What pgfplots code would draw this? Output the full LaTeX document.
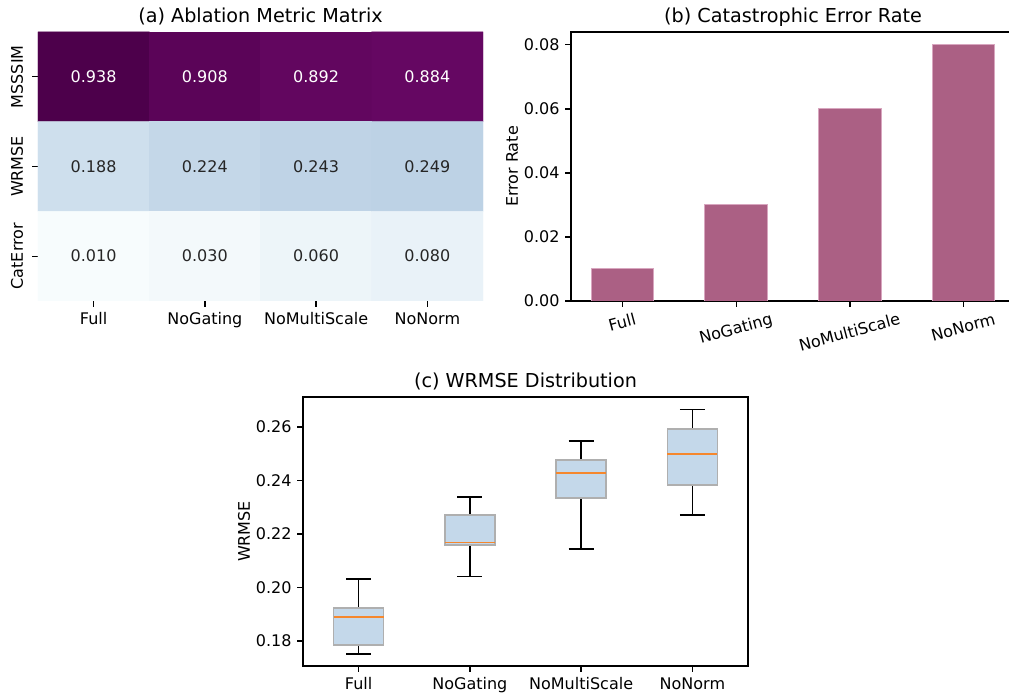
\documentclass[border=0pt]{standalone}
\usepackage{fontspec}
\setmainfont{DejaVu Sans}
\usepackage{graphicx}
\usepackage{pgfplots}
\pgfplotsset{compat=1.18}
\usepgfplotslibrary{statistics}

\definecolor{barfill}{RGB}{171,96,132}
\definecolor{baredge}{RGB}{216,166,191}
\definecolor{boxfill}{RGB}{196,216,234}
\definecolor{boxedge}{RGB}{175,175,175}
\definecolor{medcol}{RGB}{245,135,45}
\definecolor{darktext}{RGB}{38,38,38}

\pgfplotsset{
  mpl/.style={
    scale only axis,
    anchor=south west,
    axis line style={black, line width=0.8pt},
    tick style={black, line width=0.8pt},
    major tick length=3.5pt,
    tick align=outside,
    xtick pos=bottom, ytick pos=left,
    every axis title/.style={at={(0.5,1)}, anchor=base, yshift=6pt, inner sep=0pt, font=\fontsize{12}{14.4}\selectfont},
    tick label style={font=\fontsize{10}{12}\selectfont},
    label style={font=\fontsize{10}{12}\selectfont},
    xticklabel style={anchor=north, inner sep=0pt},
    yticklabel style={anchor=east, inner sep=0pt},
    xticklabel shift=3.5pt, yticklabel shift=3.5pt,
    /pgf/number format/assume math mode=true,
  }
}

\pgfplotstableread{
x y c
0 0 0.938
1 0 0.908
2 0 0.892
3 0 0.884
0 1 0.188
1 1 0.224
2 1 0.243
3 1 0.249
0 2 0.010
1 2 0.030
2 2 0.060
3 2 0.080
}\heat

\begin{document}
\begin{tikzpicture}
% (a) heatmap
\begin{axis}[mpl,
  at={(23.75pt,246.25pt)}, width=278.125pt, height=168.125pt,
  xmin=-0.5, xmax=3.5, ymin=-0.5, ymax=2.5, y dir=reverse,
  axis line style={draw=none},
  xtick={0,1,2,3}, xticklabels={Full,NoGating,NoMultiScale,NoNorm},
  ytick={0,1,2}, yticklabels={MSSSIM,WRMSE,CatError},
  xticklabel style={anchor=base}, xticklabel shift=11.1pt,
  yticklabel style={rotate=90, anchor=base}, yticklabel shift=5.9pt,
  title={(a) Ablation Metric Matrix},
  colormap={bupu}{rgb255=(247,252,253) rgb255=(224,236,244) rgb255=(191,211,230) rgb255=(158,188,218) rgb255=(140,150,198) rgb255=(140,107,177) rgb255=(136,65,157) rgb255=(129,15,124) rgb255=(77,0,75)},
  point meta min=0.01, point meta max=0.938,
]
\addplot[matrix plot*, mesh/cols=4, point meta=explicit] table[x=x, y=y, meta=c] {\heat};
\addplot[draw=none, nodes near coords, point meta=explicit symbolic,
  nodes near coords style={anchor=center, text=white, font=\fontsize{10}{12}\selectfont}]
  table[meta=t] {
x y t
0 0 0.938
1 0 0.908
2 0 0.892
3 0 0.884
};
\addplot[draw=none, nodes near coords, point meta=explicit symbolic,
  nodes near coords style={anchor=center, text=darktext, font=\fontsize{10}{12}\selectfont}]
  table[meta=t] {
x y t
0 1 0.188
1 1 0.224
2 1 0.243
3 1 0.249
0 2 0.010
1 2 0.030
2 2 0.060
3 2 0.080
};
\end{axis}

% (b) bar chart
\begin{axis}[mpl,
  at={(356.875pt,246.25pt)}, width=277.5pt, height=168.125pt,
  xmin=-0.4525, xmax=3.4525, ymin=0, ymax=0.084,
  xtick={0,1,2,3},
  xticklabels={\rotatebox{15}{Full\vphantom{lp}},\rotatebox{15}{NoGating\vphantom{lp}},\rotatebox{15}{NoMultiScale\vphantom{lp}},\rotatebox{15}{NoNorm\vphantom{lp}}},
  ytick={0,0.02,0.04,0.06,0.08},
  yticklabel style={/pgf/number format/.cd, fixed, fixed zerofill, precision=2},
  scaled y ticks=false,
  ylabel={Error Rate},
  title={(b) Catastrophic Error Rate},
]
\addplot[ybar, bar width=0.55, fill=barfill, draw=baredge, line width=0.6pt]
  coordinates {(0,0.01) (1,0.03) (2,0.06) (3,0.08)};
\end{axis}

% (c) boxplot
\begin{axis}[mpl,
  at={(189.375pt,18.125pt)}, width=278.125pt, height=168.125pt,
  xmin=0.5, xmax=4.5, ymin=0.1707, ymax=0.2712,
  xtick={1,2,3,4}, xticklabels={Full,NoGating,NoMultiScale,NoNorm},
  xticklabel style={anchor=base}, xticklabel shift=11.1pt,
  ytick={0.18,0.20,0.22,0.24,0.26},
  yticklabel style={/pgf/number format/.cd, fixed, fixed zerofill, precision=2},
  scaled y ticks=false,
  ylabel={WRMSE},
  title={(c) WRMSE Distribution},
  /pgfplots/boxplot/every box/.style={draw=boxedge, fill=boxfill, line width=1pt},
  /pgfplots/boxplot/every whisker/.style={draw=black, line width=1pt},
  /pgfplots/boxplot/every median/.style={draw=medcol, line width=1pt},
  /pgfplots/boxplot/draw direction=y,
]
\addplot+[mark=none, solid, black, line width=1pt, boxplot prepared={draw position=1, median=0.1889, upper quartile=0.1923, lower quartile=0.1786, upper whisker=0.2032, lower whisker=0.1751, box extend=0.45, whisker extend=0.225}] coordinates {};
\addplot+[mark=none, solid, black, line width=1pt, boxplot prepared={draw position=2, median=0.2168, upper quartile=0.2271, lower quartile=0.2159, upper whisker=0.2338, lower whisker=0.2041, box extend=0.45, whisker extend=0.225}] coordinates {};
\addplot+[mark=none, solid, black, line width=1pt, boxplot prepared={draw position=3, median=0.2429, upper quartile=0.2477, lower quartile=0.2335, upper whisker=0.2548, lower whisker=0.2144, box extend=0.45, whisker extend=0.225}] coordinates {};
\addplot+[mark=none, solid, black, line width=1pt, boxplot prepared={draw position=4, median=0.2499, upper quartile=0.2593, lower quartile=0.2384, upper whisker=0.2665, lower whisker=0.2272, box extend=0.45, whisker extend=0.225}] coordinates {};
\end{axis}

\pgfresetboundingbox
\path (0,0) rectangle (630.625pt,434.375pt);
\end{tikzpicture}
\end{document}
